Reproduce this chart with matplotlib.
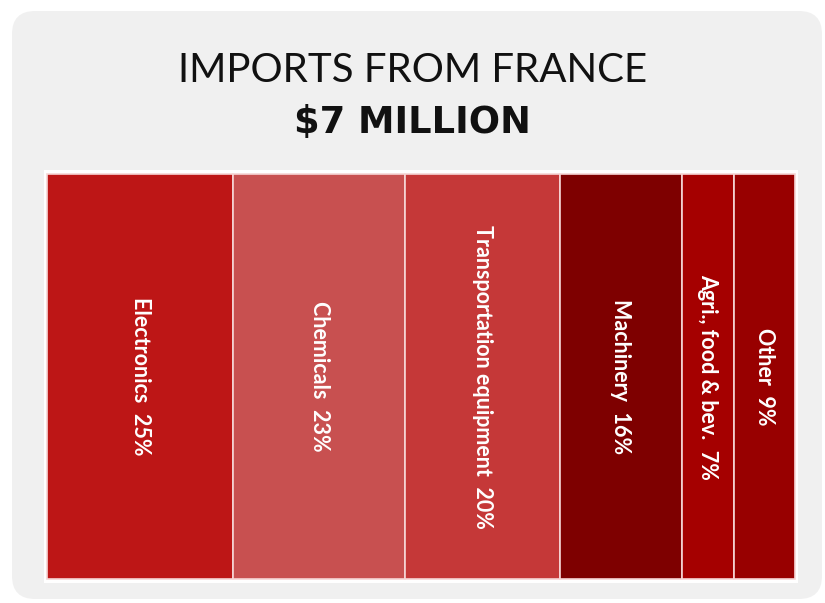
import matplotlib

matplotlib.use("Agg")
import matplotlib.pyplot as plt
from matplotlib.patches import FancyBboxPatch

# imports from France: category, share shown in label (%), bar width share (%)
categories = ["Electronics", "Chemicals", "Transportation equipment",
              "Machinery", "Agri., food & bev.", "Other"]
label_pct = [25, 23, 20, 16, 7, 9]
shares = [24.9, 23.0, 20.7, 16.3, 6.95, 8.15]
colors = ["#BD1616", "#C85050", "#C53838", "#7E0000", "#A50000", "#980000"]
title = "IMPORTS FROM FRANCE"
total = "$7 MILLION"

W, H = 825, 603
fig = plt.figure(figsize=(W / 100, H / 100), dpi=100)
fig.patch.set_facecolor("white")

# rounded grey card behind everything
card = FancyBboxPatch((12 / W, 4 / H), 810 / W, 588 / H,
                      boxstyle="round,pad=0,rounding_size=0.028",
                      transform=fig.transFigure, facecolor="#F0F0F0",
                      edgecolor="none", zorder=-1, mutation_aspect=W / H)
fig.patches.append(card)

fig.text(0.5, 1 - 82 / H, title, ha="center", va="baseline",
         fontsize=29, family="Lato", weight="normal", color="#111111")
fig.text(0.5, 1 - 133 / H, total, ha="center", va="baseline",
         fontsize=26.5, family="DejaVu Sans", weight="bold", color="#111111")

ax = fig.add_axes([44 / W, 1 - 583 / H, 754 / W, 413 / H])
ax.set_zorder(2)
ax.set_facecolor("white")

left = 0
for cat, p, s, c in zip(categories, label_pct, shares, colors):
    ax.bar(left, 1, width=s, bottom=0, align="edge", color=c,
           edgecolor="#F6D6D6", linewidth=1.2)
    ax.text(left + s / 2, 0.5, f"{cat}  {p}%", rotation=270,
            ha="center", va="center", color="white", fontsize=15.5,
            family="Lato", weight="bold")
    left += s

ax.set_xlim(-0.45, sum(shares) + 0.45)
ax.set_ylim(-0.009, 1.009)
ax.set_xticks([])
ax.set_yticks([])
for sp in ax.spines.values():
    sp.set_visible(False)

plt.savefig("out.png", dpi=100)
